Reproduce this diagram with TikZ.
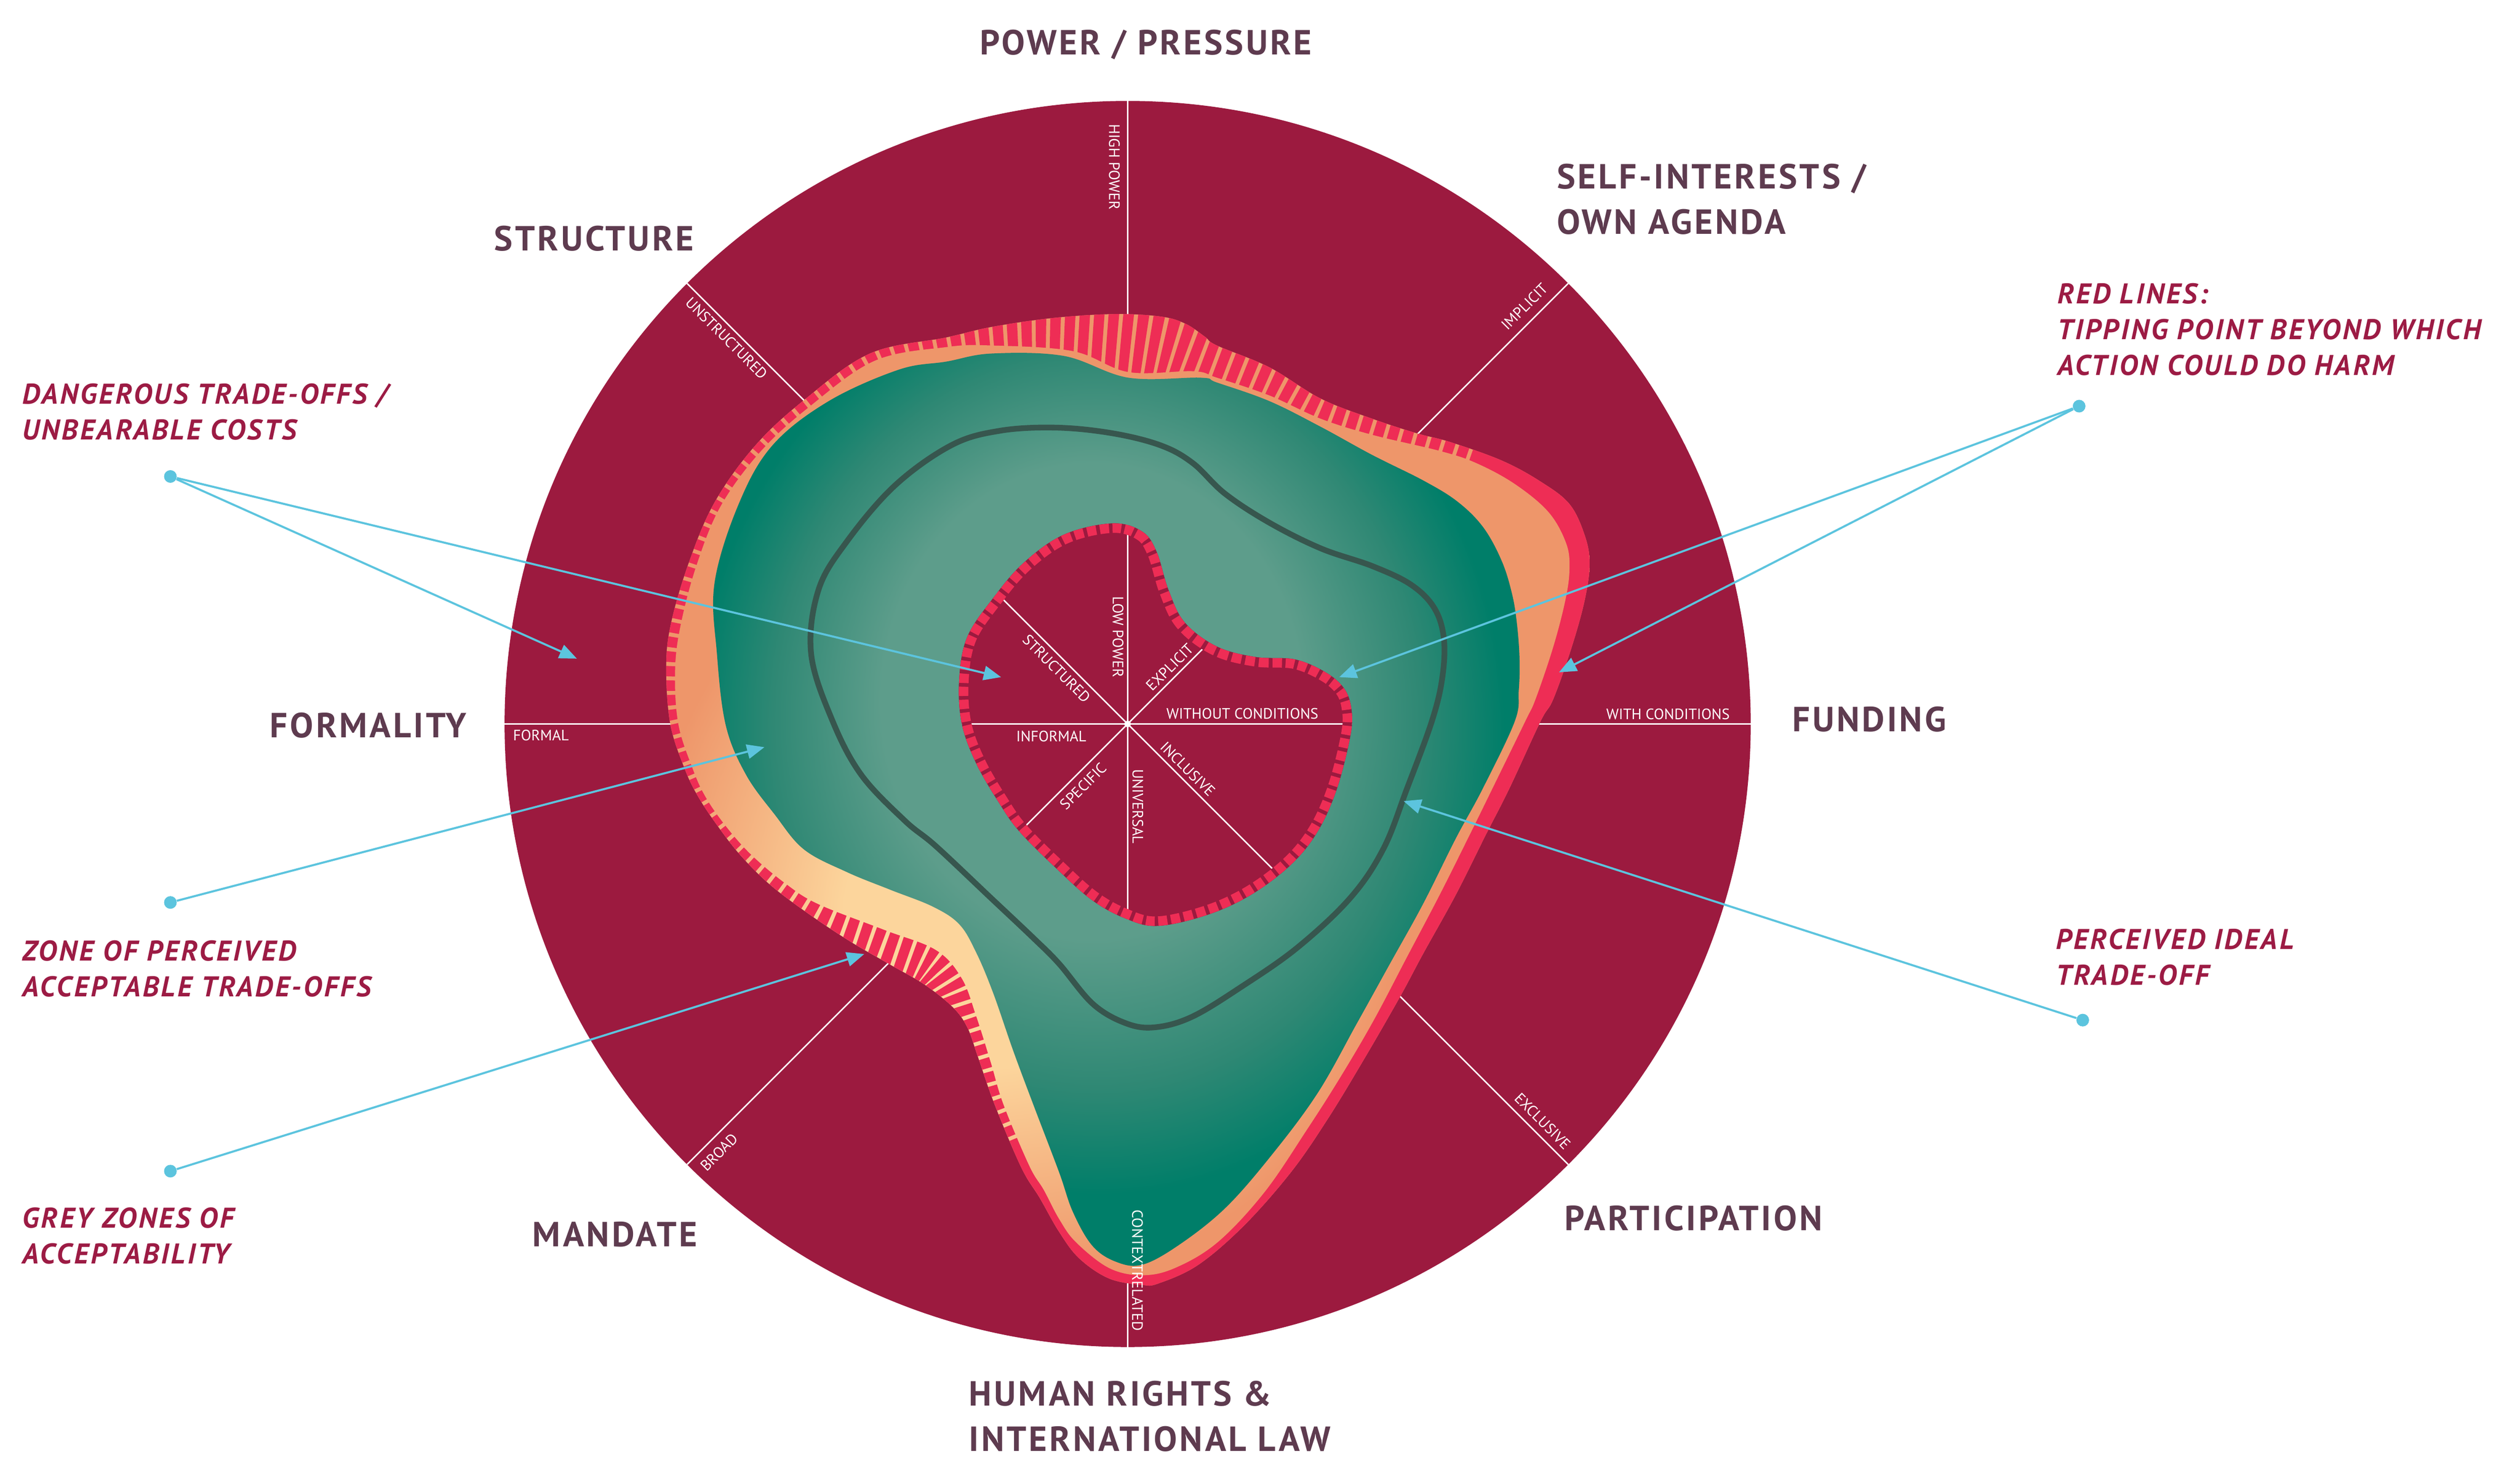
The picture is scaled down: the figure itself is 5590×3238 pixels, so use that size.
\documentclass[tikz,border=0pt]{standalone}
\usepackage{fontspec}
\setmainfont{PT Sans}
\newfontfamily\titlefont[LetterSpace=7]{PT Sans}
\newfontfamily\callfont[LetterSpace=7.5]{PT Sans}
\newfontfamily\tickfont{PT Sans}
\usetikzlibrary{arrows.meta}

\definecolor{wine}{HTML}{9C1A3F}
\definecolor{redline}{HTML}{EE2D55}
\definecolor{peach}{HTML}{FCD59C}
\definecolor{salmon}{HTML}{EE966A}
\definecolor{teallight}{HTML}{5D9D8B}
\definecolor{tealmid}{HTML}{2F8874}
\definecolor{tealdark}{HTML}{007E69}
\definecolor{darkline}{HTML}{37564E}
\definecolor{arrowblue}{HTML}{5CC4DE}
\definecolor{plum}{HTML}{5E3B4F}
\definecolor{callred}{HTML}{9C1B44}

\pgfdeclareradialshading{tealglow}{\pgfpoint{-2bp}{8bp}}{%
  color(0bp)=(teallight); color(13bp)=(teallight); color(20bp)=(tealmid);
  color(25bp)=(tealdark); color(50bp)=(tealdark)}
\pgfdeclareradialshading{peachglow}{\pgfpoint{-9bp}{-7bp}}{%
  color(0bp)=(peach); color(8bp)=(peach); color(21bp)=(salmon);
  color(50bp)=(salmon)}

% zones, in the frame of the circle
\newcommand{\redzone}{plot[smooth cycle, tension=0.6] coordinates {
  (459,316) (554,296) (610,283) (685,272) (761,267) (820,270) (851,279)
  (875,295) (890,306) (955,333) (1019,372) (1083,397) (1138,415)
  (1180,426) (1244,449) (1292,475) (1328,503) (1347,542) (1353,577)
  (1347,622) (1331,680) (1308,745) (1292,773) (1253,857) (1224,914)
  (1187,988) (1146,1062) (1117,1116) (1072,1194) (1027,1268) (982,1333)
  (924,1399) (867,1448) (818,1471) (797,1473) (756,1465) (719,1440)
  (694,1407) (670,1365) (647,1327) (614,1249) (593,1189) (580,1153)
  (562,1128) (527,1100) (484,1075) (434,1046) (380,1010) (334,975)
  (298,939) (270,903) (246,867) (229,832) (211,776) (206,705) (212,651)
  (234,576) (266,501) (316,431) (377,374)}}
\newcommand{\orangezone}{plot[smooth cycle, tension=0.6] coordinates {
  (465,325) (554,308) (610,306) (711,313) (780,339) (861,338) (890,346)
  (955,368) (1019,397) (1083,417) (1167,437) (1212,452) (1260,478)
  (1302,513) (1324,552) (1328,584) (1323,622) (1308,680) (1286,745)
  (1273,773) (1232,857) (1204,914) (1167,988) (1126,1066) (1085,1144)
  (1044,1214) (1002,1280) (949,1358) (891,1420) (838,1452) (797,1461)
  (756,1452) (715,1420) (694,1391) (675,1355) (657,1325) (625,1249)
  (609,1196) (591,1139) (573,1092) (541,1057) (477,1032) (395,1000)
  (355,975) (312,939) (280,903) (255,867) (239,832) (221,776) (217,710)
  (224,653) (244,578) (274,505) (323,438) (384,382)}}
\newcommand{\tealzone}{plot[smooth cycle, tension=0.6] coordinates {
  (495,336) (554,326) (610,316) (700,319) (780,346) (870,346) (890,352)
  (955,375) (1019,407) (1083,442) (1147,474) (1189,500) (1221,532)
  (1244,574) (1257,616) (1263,654) (1266,696) (1265,735) (1260,773)
  (1220,857) (1187,918) (1146,1000) (1105,1074) (1064,1148) (1015,1235)
  (957,1313) (900,1378) (842,1424) (797,1448) (764,1444) (735,1424)
  (711,1382) (694,1333) (662,1249) (637,1182) (612,1110) (591,1060)
  (570,1025) (537,1003) (484,982) (430,960) (377,932) (341,889)
  (305,839) (280,778) (269,689) (266,601) (296,503) (338,430) (408,375)}}
\newcommand{\idealline}{plot[smooth cycle, tension=0.6] coordinates {
  (620,412) (690,408) (760,415) (820,430) (860,452) (900,490) (955,526)
  (1019,558) (1083,580) (1131,603) (1160,632) (1172,670) (1170,719)
  (1157,773) (1126,857) (1097,931) (1056,992) (990,1054) (920,1103)
  (859,1140) (813,1153) (777,1148) (736,1124) (694,1074) (662,1042)
  (609,992) (541,928) (502,896) (448,839) (412,771) (386,689) (395,610)
  (430,550) (490,480) (560,430)}}
\newcommand{\coreblob}{plot[smooth cycle, tension=0.6] coordinates {
  (760,527) (797,537) (815,562) (830,610) (850,650) (890,680) (938,693)
  (987,696) (1025,712) (1048,732) (1057,757) (1056,790) (1039,857)
  (1015,910) (982,951) (933,988) (879,1013) (817,1027) (777,1018)
  (735,995) (690,955) (645,910) (620,875) (591,825) (573,775) (570,720)
  (580,668) (612,620) (650,576) (700,541)}}
\newcommand{\hatchpath}{plot[smooth, tension=0.6] coordinates {
  (660,1335) (625,1249) (609,1196) (591,1139) (573,1092) (541,1057)
  (477,1032) (395,1000) (312,939) (255,867) (221,776) (217,710) (224,653)
  (244,578) (274,505) (323,438) (384,382) (465,325) (554,300) (650,290)
  (745,293) (820,302) (880,322) (955,352) (1019,385) (1083,407)
  (1167,432) (1220,450)}}
\newcommand{\solidpath}{plot[smooth, tension=0.6] coordinates {
  (1205,450) (1260,478) (1302,513) (1324,552) (1328,584) (1323,622)
  (1308,680) (1286,745) (1273,773) (1232,857) (1204,914) (1167,988)
  (1126,1066) (1085,1144) (1044,1214) (1002,1280) (949,1358) (891,1420)
  (838,1452) (797,1461) (756,1452) (715,1420) (694,1391) (675,1355)
  (657,1325) (648,1300)}}

\tikzset{
  bigtitle/.style={font=\titlefont\bfseries\fontsize{22}{28.5}\selectfont,
    text=plum, inner sep=0pt},
  calltext/.style={font=\callfont\bfseries\itshape\fontsize{18}{22.5}\selectfont,
    text=callred, align=left, inner sep=0pt, anchor=north west},
  ticklabel/.style={font=\tickfont\fontsize{9.5}{10}\selectfont, text=white,
    inner sep=0pt},
  axisline/.style={draw=white, line width=0.9pt},
  arrowline/.style={draw=arrowblue, line width=1.3pt,
    -{Triangle[length=11pt, width=9pt]}},
  calldot/.style={circle, fill=arrowblue, inner sep=0pt, minimum size=8pt},
}

\begin{document}
\begin{tikzpicture}[x=0.01cm, y=-0.01cm]
  \fill[white] (0,0) rectangle (5590,3238);
  \useasboundingbox (0,0) rectangle (5590,3238);

  \begin{scope}[shift={(1110,220)}, scale=1.7857]
    \coordinate (hub) at (779,776);
    \fill[wine] (hub) circle [radius=774];
    \foreach \a in {0,45,...,315}
      \draw[axisline] (hub) -- ++(\a:774);

    % red lines and grey zones
    \shade[shading=peachglow] \redzone;
    \begin{scope}
      \clip \redzone;
      \draw[redline, line width=60pt, dash pattern=on 6.5pt off 2.5pt] \hatchpath;
      \draw[redline, line width=30pt] \solidpath;
    \end{scope}
    \shade[shading=peachglow] \orangezone;
    \shade[shading=tealglow] \tealzone;
    \draw[darkline, line width=3.6pt] \idealline;

    % core
    \fill[wine] \coreblob;
    \begin{scope}
      \clip \coreblob;
      \foreach \a in {0,45,...,315}
        \draw[axisline] (hub) -- ++(\a:330);
      \draw[wine, line width=12pt] \coreblob;
      \draw[redline, line width=12pt, dash pattern=on 6pt off 2.4pt] \coreblob;
    \end{scope}
    \fill[white] (hub) circle [radius=4];

    \coordinate (dangertipA) at (95,695);
    \coordinate (dangertipB) at (622,718);
    \coordinate (zonetip) at (328,805);
    \coordinate (greytip) at (452,1062);
    \coordinate (redtipA) at (1042,718);
    \coordinate (redtipB) at (1315,712);
    \coordinate (idealtip) at (1122,872);
  \end{scope}

  % dimensions
  \node (powerlabel) [bigtitle, anchor=base] at (2542,121) {POWER / PRESSURE};
  \node (structurelabel) [bigtitle, anchor=base] at (1318,556) {STRUCTURE};
  \node (selflabel) [bigtitle, anchor=north west, align=left] at (3453,363)
    {SELF-INTERESTS /\\OWN AGENDA};
  \node (formalitylabel) [bigtitle, anchor=base] at (817,1636) {FORMALITY};
  \node (fundinglabel) [bigtitle, anchor=base west] at (3975,1623) {FUNDING};
  \node (mandatelabel) [bigtitle, anchor=base] at (1364,2765) {MANDATE};
  \node (participationlabel) [bigtitle, anchor=base west] at (3470,2729)
    {PARTICIPATION};
  \node (rightslabel) [bigtitle, anchor=north west, align=left] at (2149,3063)
    {HUMAN RIGHTS \&\\INTERNATIONAL LAW};

  % axis ends
  \node (highpower) [ticklabel, rotate=-90] at (2472,370) {HIGH POWER};
  \node (implicit) [ticklabel, rotate=45] at (3382,680) {IMPLICIT};
  \node (withcond) [ticklabel] at (3700,1584) {WITH CONDITIONS};
  \node (exclusive) [ticklabel, rotate=-45] at (3422,2487) {EXCLUSIVE};
  \node (context) [ticklabel, rotate=-90] at (2523,2818) {CONTEXTRELATED};
  \node (broad) [ticklabel, rotate=45] at (1595,2556) {BROAD};
  \node (formal) [ticklabel] at (1200,1631) {FORMAL};
  \node (unstructured) [ticklabel, rotate=-45] at (1612,750) {UNSTRUCTURED};
  \node (lowpower) [ticklabel, rotate=-90] at (2480,1413) {LOW POWER};
  \node (explicit) [ticklabel, rotate=45] at (2595,1480) {EXPLICIT};
  \node (withoutcond) [ticklabel] at (2756,1583) {WITHOUT CONDITIONS};
  \node (inclusive) [ticklabel, rotate=-45] at (2635,1706) {INCLUSIVE};
  \node (universal) [ticklabel, rotate=-90] at (2524,1789) {UNIVERSAL};
  \node (specific) [ticklabel, rotate=45] at (2403,1744) {SPECIFIC};
  \node (informal) [ticklabel] at (2332,1633) {INFORMAL};
  \node (structured) [ticklabel, rotate=-45] at (2344,1483) {STRUCTURED};

  % callouts
  \node (dangertext) [calltext] at (49,850) {DANGEROUS TRADE-OFFS /\\UNBEARABLE COSTS};
  \node (zonetext) [calltext] at (49,2086) {ZONE OF PERCEIVED\\ACCEPTABLE TRADE-OFFS};
  \node (greytext) [calltext] at (49,2678) {GREY ZONES OF\\ACCEPTABILITY};
  \node (redtext) [calltext] at (4563,628)
    {RED LINES:\\TIPPING POINT BEYOND WHICH\\ACTION COULD DO HARM};
  \node (idealtext) [calltext] at (4560,2060) {PERCEIVED IDEAL\\TRADE-OFF};

  \node (dangerdot) [calldot] at (378,1057) {};
  \node (zonedot) [calldot] at (378,2002) {};
  \node (greydot) [calldot] at (378,2598) {};
  \node (reddot) [calldot] at (4612,901) {};
  \node (idealdot) [calldot] at (4620,2263) {};

  \draw[arrowline] (dangerdot) -- (dangertipA);
  \draw[arrowline] (dangerdot) -- (dangertipB);
  \draw[arrowline] (zonedot) -- (zonetip);
  \draw[arrowline] (greydot) -- (greytip);
  \draw[arrowline] (reddot) -- (redtipA);
  \draw[arrowline] (reddot) -- (redtipB);
  \draw[arrowline] (idealdot) -- (idealtip);
\end{tikzpicture}
\end{document}
